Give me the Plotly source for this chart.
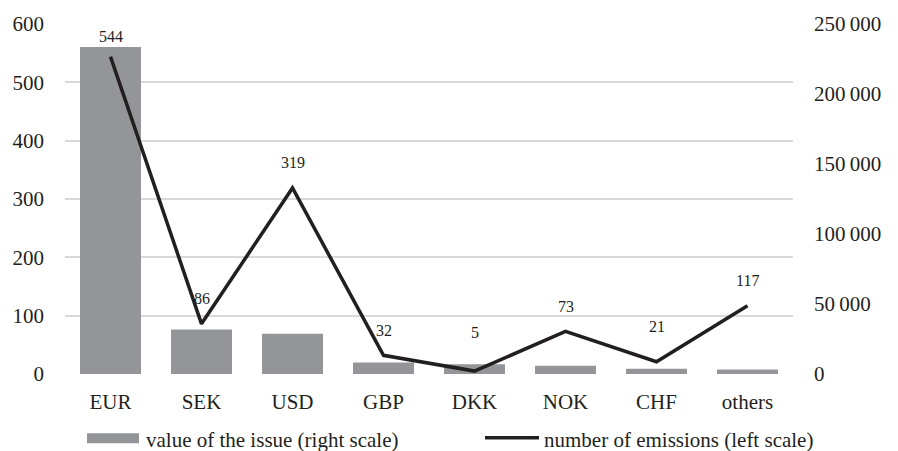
import plotly.graph_objects as go

categories = ["EUR", "SEK", "USD", "GBP", "DKK", "NOK", "CHF", "others"]
issue_value = [233500, 31800, 28700, 8300, 6900, 5900, 3800, 3300]
emissions = [544, 86, 319, 32, 5, 73, 21, 117]
left_ticks = [0, 100, 200, 300, 400, 500, 600]
right_ticks = [0, 50000, 100000, 150000, 200000, 250000]
right_tick_text = ["0", "50\u2009000", "100\u2009000", "150\u2009000", "200\u2009000", "250\u2009000"]

FONT = "Liberation Serif"
W, H = 898, 451
ML, MR, MT, MB = 65, 105, 20, 77
PW, PH = W - ML - MR, H - MT - MB

def px(x):
    return (x - ML) / PW

def py(y):
    return (MT + PH - y) / PH

fig = go.Figure()
fig.add_trace(go.Bar(x=categories, y=issue_value, yaxis="y", marker_color="#939598",
                     marker_line_width=0, showlegend=False))
fig.add_trace(go.Scatter(x=categories, y=emissions, yaxis="y2", mode="lines",
                         line=dict(color="#231f20", width=3.5), showlegend=False))

# data labels
label_shift = {"EUR": 20, "DKK": 39, "CHF": 35}
for c, v in zip(categories, emissions):
    fig.add_annotation(x=c, y=v, xref="x", yref="y2", text=str(v), showarrow=False,
                       yshift=label_shift.get(c, 25), yanchor="middle",
                       font=dict(family=FONT, size=16, color="#231f20"))

gmax = right_ticks[-1]
grid_vals = [gmax * t / left_ticks[-1] for t in left_ticks]

fig.update_layout(
    width=W, height=H,
    margin=dict(l=ML, r=MR, t=MT, b=MB),
    paper_bgcolor="white", plot_bgcolor="white",
    bargap=0.33,
    font=dict(family=FONT, size=21, color="#231f20"),
    xaxis=dict(showline=False, ticks="", showgrid=False, ticklabelstandoff=13,
               tickfont=dict(family=FONT, size=21)),
    yaxis=dict(side="right", range=[0, gmax], tickvals=right_ticks, ticktext=right_tick_text,
               showgrid=False, zeroline=False, showline=False, ticks="",
               ticklabelstandoff=20, tickfont=dict(family=FONT, size=21),
               minor=dict(tickvals=grid_vals, showgrid=True, gridcolor="#d9d9d9", gridwidth=1.5, ticks="")),
    yaxis2=dict(side="left", overlaying="y", range=[0, left_ticks[-1]], tickvals=left_ticks,
                showgrid=False, zeroline=False, showline=False, ticks="",
                ticklabelstandoff=20, tickfont=dict(family=FONT, size=21)),
)

# manual legend
fig.add_shape(type="rect", xref="paper", yref="paper",
              x0=px(87), x1=px(139), y0=py(444), y1=py(434),
              fillcolor="#939598", line_width=0)
fig.add_annotation(xref="paper", yref="paper", x=px(144), y=py(441), xanchor="left", yanchor="middle",
                   text="value of the issue (right scale)", showarrow=False,
                   font=dict(family=FONT, size=21, color="#231f20"))
fig.add_shape(type="line", xref="paper", yref="paper",
              x0=px(485), x1=px(539), y0=py(438.5), y1=py(438.5),
              line=dict(color="#231f20", width=3.5))
fig.add_annotation(xref="paper", yref="paper", x=px(542), y=py(441), xanchor="left", yanchor="middle",
                   text="number of emissions (left scale)", showarrow=False,
                   font=dict(family=FONT, size=21, color="#231f20"))

fig.write_html("out.html", config={"displayModeBar": False},
               post_script="document.body.style.margin='0';document.body.style.overflow='hidden';")
